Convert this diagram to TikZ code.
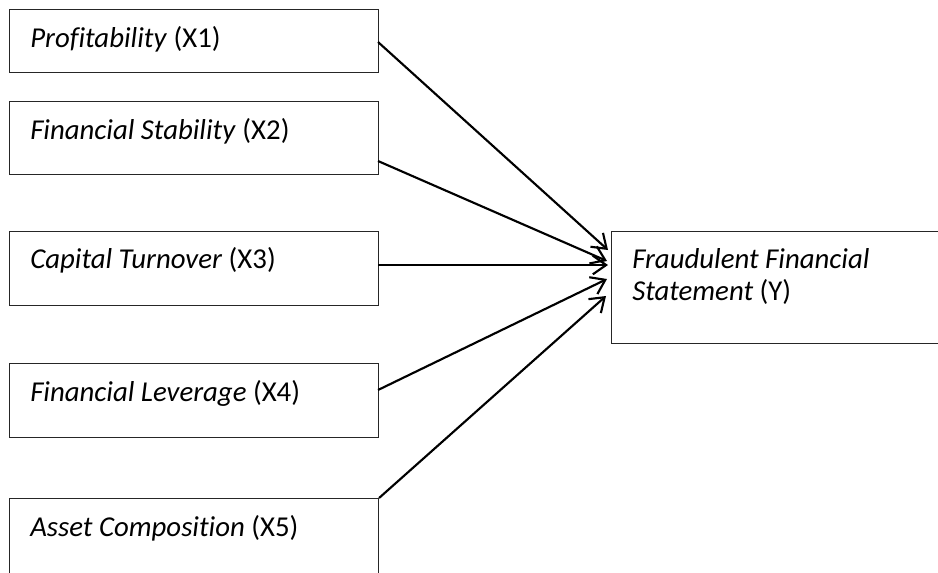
\documentclass[tikz,border=0pt]{standalone}
\usepackage{fontspec}
\setmainfont{Carlito}[Ligatures=NoCommon]
\usetikzlibrary{arrows.meta}

\tikzset{
  boxnode/.style={draw=black!85, line width=0.8pt, rectangle, inner sep=0pt, anchor=north west},
  lbl/.style={inner sep=0pt, anchor=base west, font=\fontsize{21.6}{24}\selectfont, align=left},
  link/.style={line width=1.6pt, -{Straight Barb[length=10pt,width=14pt,line width=1.6pt]}}
}

\begin{document}
\begin{tikzpicture}[x=0.75pt,y=0.75pt,yscale=-1,xscale=1]
    \path[use as bounding box, clip] (0,0) rectangle (938,572);

    % independent variables
    \node[boxnode, minimum width=276.75pt, minimum height=47.25pt] (x1) at (9,9) {};
    \node[boxnode, minimum width=276.75pt, minimum height=54.75pt] (x2) at (9,101) {};
    \node[boxnode, minimum width=276.75pt, minimum height=55.5pt] (x3) at (9,231) {};
    \node[boxnode, minimum width=276.75pt, minimum height=55.5pt] (x4) at (9,363) {};
    \node[boxnode, minimum width=276.75pt, minimum height=60pt] (x5) at (9,498) {};

    % dependent variable
    \node[boxnode, minimum width=255pt, minimum height=84pt] (y) at (611,231) {};

    % Text Node
    \node[lbl] (t1) at (30,47) {\textit{Profitability} (X1)};
    \node[lbl] (t2) at (30,139) {\textit{Financial Stability} (X2)};
    \node[lbl] (t3) at (30,268) {\textit{Capital Turnover} (X3)};
    \node[lbl] (t4) at (30,401) {\textit{Financial Leverage} (X4)};
    \node[lbl] (t5) at (30,536) {\textit{Asset Composition} (X5)};
    \node[lbl] (ty) at (632,300) {\textit{Fraudulent Financial}\\\textit{Statement} (Y)};

    % arrow ends
    \coordinate (s1) at (378,42);
    \coordinate (s2) at (378,161);
    \coordinate (s3) at (378,265);
    \coordinate (s4) at (378,390);
    \coordinate (e1) at (608,250);
    \coordinate (e2) at (607,261);
    \coordinate (e3) at (608,265);
    \coordinate (e4) at (607,279);
    \coordinate (e5) at (606,296);

    \draw[link] (s1) -- (e1);
    \draw[link] (s2) -- (e2);
    \draw[link] (s3) -- (e3);
    \draw[link] (s4) -- (e4);
    \draw[link] (x5.north east) -- (e5);

\end{tikzpicture}
\end{document}
